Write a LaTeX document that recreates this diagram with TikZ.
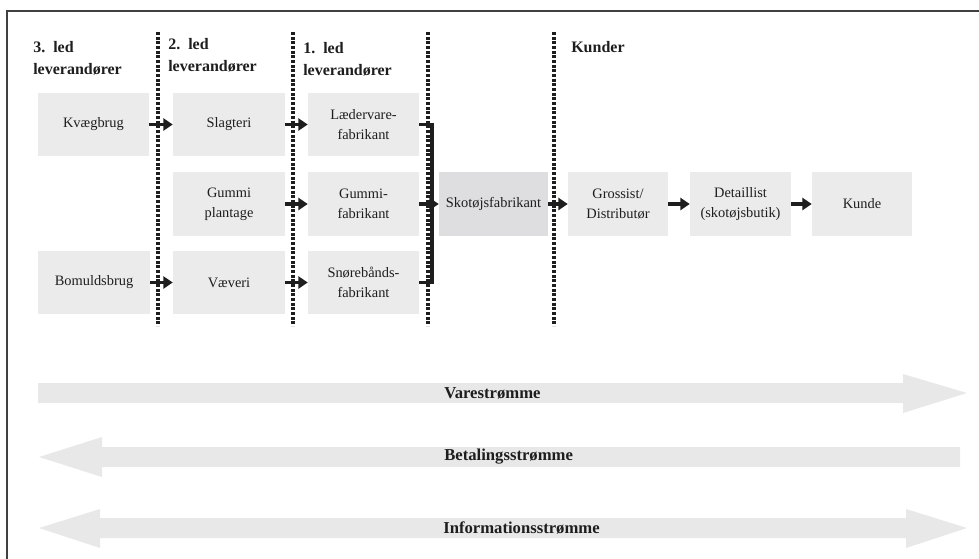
\documentclass[tikz,border=0pt]{standalone}
\usepackage{fontspec}
\setmainfont{Liberation Serif}
\usetikzlibrary{arrows.meta}
\definecolor{boxgray}{RGB}{235,235,235}
\definecolor{boxdark}{RGB}{222,222,224}
\definecolor{flowgray}{RGB}{232,232,232}
\definecolor{inkc}{RGB}{30,30,30}
\tikzset{
  stagebox/.style={rectangle, fill=boxgray, draw=none, minimum height=47.5pt, inner sep=0pt, align=center, font=\fontsize{10.8}{15}\selectfont, text=inkc},
  hdr/.style={anchor=base west, inner sep=0pt, align=left, font=\bfseries\fontsize{12}{16}\selectfont, text=inkc},
  flowlbl/.style={anchor=west, inner sep=0pt, font=\bfseries\fontsize{12.5}{15}\selectfont, text=inkc},
  sep/.style={draw=inkc, line width=2.8pt, dash pattern=on 2.2pt off 1.3pt},
  blk/.style={draw=inkc, line width=2.6pt, -{Triangle[length=7pt,width=9pt]}},
  bar/.style={draw=inkc, line width=2.6pt, line join=miter},
  flow/.style={fill=flowgray, draw=none}
}
\begin{document}
\begin{tikzpicture}[x=0.75pt,y=-0.75pt]
\useasboundingbox (0,0) rectangle (979,558);
% frame
\draw[line width=0.9pt, inkc!85] (7,560) -- (7,11) -- (981,11);
% separators
\foreach \sx in {158,293,428,554} \draw[sep] (\sx,32) -- (\sx,326);
% headers
\node[hdr] (h3) at (33,74) {3.\ \ led\\leverandører};
\node[hdr] (h2) at (168,71) {2.\ \ led\\leverandører};
\node[hdr] (h1) at (303,75) {1.\ \ led\\leverandører};
\node[hdr] (hk) at (571,52) {Kunder};
% boxes
\node[stagebox, minimum width=83.25pt] (kvaeg) at (93.5,124.5) {Kvægbrug};
\node[stagebox, minimum width=84pt] (slag) at (229,124.5) {Slagteri};
\node[stagebox, minimum width=83.25pt] (laeder) at (363.5,124.5) {Lædervare-\\fabrikant};
\node[stagebox, minimum width=84pt] (gplant) at (229,204) {Gummi\\plantage};
\node[stagebox, minimum width=83.25pt] (gfab) at (363.5,204) {Gummi-\\fabrikant};
\node[stagebox, minimum width=84pt] (bomuld) at (94,282.5) {Bomuldsbrug};
\node[stagebox, minimum width=84pt] (vaev) at (229,282.5) {Væveri};
\node[stagebox, minimum width=83.25pt] (snor) at (363.5,282.5) {Snørebånds-\\fabrikant};
\node[stagebox, fill=boxdark, minimum width=81.75pt] (skot) at (493.5,204) {Skotøjsfabrikant};
\node[stagebox, minimum width=75pt] (gross) at (618,204) {Grossist/\\Distributør};
\node[stagebox, minimum width=75.75pt] (detail) at (740.5,204) {Detaillist\\(skotøjsbutik)};
\node[stagebox, minimum width=75pt] (kunde) at (862,204) {Kunde};
% arrows
\draw[blk] (kvaeg.east) -- (slag.west);
\draw[blk] (slag.east) -- (laeder.west);
\draw[blk] (gplant.east) -- (gfab.west);
\draw[blk] (bomuld.east) -- (vaev.west);
\draw[blk] (vaev.east) -- (snor.west);
\coordinate (brT) at (432,124.5);
\coordinate (brB) at (432,282.5);
\draw[bar] (laeder.east) -- (brT) -- (brB) -- (snor.east);
\draw[blk] (gfab.east) -- (skot.west);
\draw[blk] (skot.east) -- (gross.west);
\draw[blk] (gross.east) -- (detail.west);
\draw[blk] (detail.east) -- (kunde.west);
% flows
\fill[flow] (38,383) -- (903,383) -- (903,374) -- (967,393) -- (903,413) -- (903,403) -- (38,403) -- cycle;
\fill[flow] (960,447) -- (102,447) -- (102,437) -- (39,457) -- (102,477) -- (102,467) -- (960,467) -- cycle;
\fill[flow] (100,518) -- (906,518) -- (906,509) -- (967,528) -- (906,548) -- (906,538) -- (100,538) -- (100,548) -- (39,528) -- (100,509) -- cycle;
\node[flowlbl] (vs) at (444,393) {Varestrømme};
\node[flowlbl] (bs) at (444,457) {Betalingsstrømme};
\node[flowlbl] (is) at (443,528) {Informationsstrømme};
\end{tikzpicture}
\end{document}
